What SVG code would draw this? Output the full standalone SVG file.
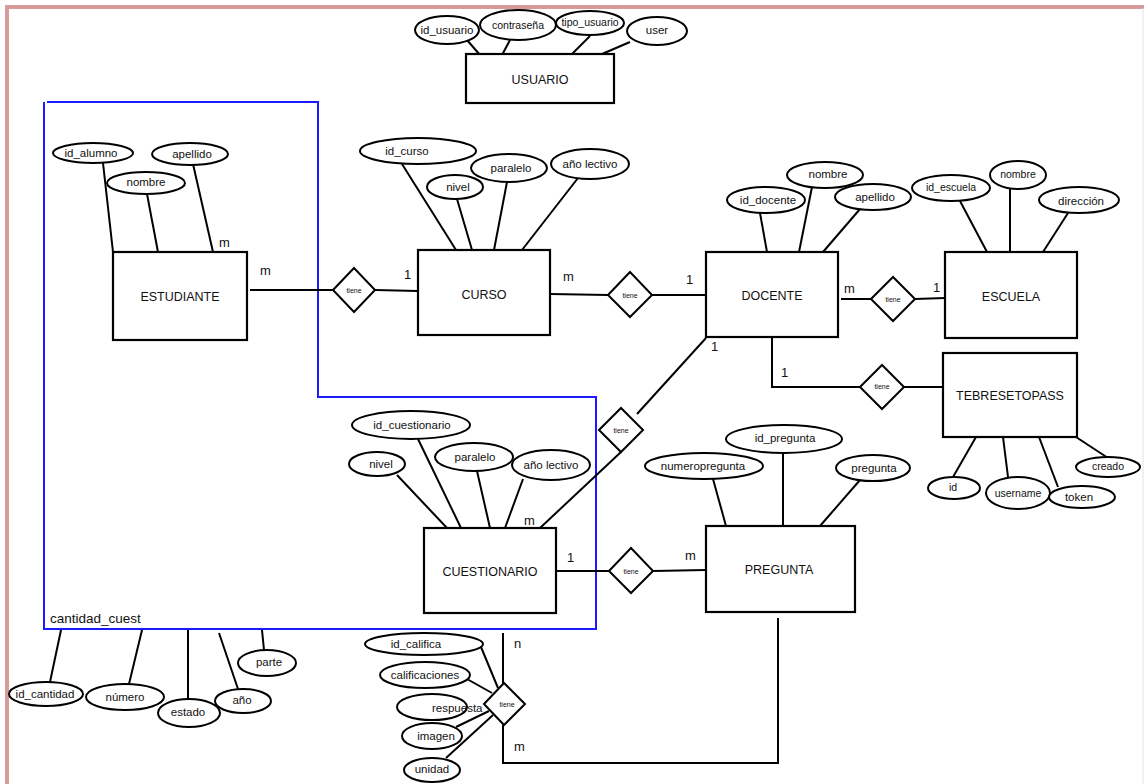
<svg xmlns="http://www.w3.org/2000/svg" width="1144" height="784" viewBox="0 0 1144 784">
  <style>
    .ent { fill: #fff; stroke: #000; stroke-width: 2.2; }
    .att { fill: #fff; stroke: #000; stroke-width: 2; }
    .rel { fill: #fff; stroke: #000; stroke-width: 2; }
    .ln  { stroke: #000; stroke-width: 2; fill: none; }
    .et  { font-family: "Liberation Sans", Arial, sans-serif; font-size: 12.5px; fill: #111; text-anchor: middle; dominant-baseline: central; }
    .at  { font-family: "Liberation Sans", Arial, sans-serif; font-size: 11.5px; fill: #111; text-anchor: middle; dominant-baseline: central; }
    .sm  { font-family: "Liberation Sans", Arial, sans-serif; font-size: 10.5px; fill: #111; text-anchor: middle; dominant-baseline: central; }
    .rt  { font-family: "Liberation Sans", Arial, sans-serif; font-size: 7px; fill: #111; text-anchor: middle; dominant-baseline: central; }
    .card { font-family: "Liberation Sans", Arial, sans-serif; font-size: 13px; fill: #111; }
  </style>

  <rect x="0" y="0" width="1144" height="784" fill="#fff"/>
  <!-- page frame -->
  <line x1="5" y1="7" x2="1144" y2="7" stroke="#d99a9a" stroke-width="4"/>
  <line x1="7" y1="5" x2="7" y2="784" stroke="#d99a9a" stroke-width="4"/>
  <line x1="1143" y1="8" x2="1143" y2="784" stroke="#e4e4e4" stroke-width="1"/>

  <!-- aggregation outline -->
  <g id="cantidad_cuest">
    <path d="M47,102 H318 V397 H596 V629 H44 V102" fill="none" stroke="#1a1aff" stroke-width="2"/>
    <text x="50" y="623" font-family="Liberation Sans, Arial, sans-serif" font-size="13.5" fill="#111">cantidad_cuest</text>
  </g>

  <!-- connectors -->
  <g id="connectors" class="ln">
    <!-- USUARIO attributes -->
    <line x1="467" y1="40" x2="480" y2="55"/>
    <line x1="510" y1="40" x2="502" y2="55"/>
    <line x1="590" y1="36" x2="572" y2="54"/>
    <line x1="630" y1="42" x2="602" y2="54"/>
    <!-- ESTUDIANTE attributes -->
    <line x1="103" y1="163" x2="113" y2="252"/>
    <line x1="147" y1="194" x2="158" y2="252"/>
    <line x1="193" y1="164" x2="213" y2="252"/>
    <!-- ESTUDIANTE - tiene - CURSO -->
    <line x1="250" y1="290" x2="333" y2="290"/>
    <line x1="375" y1="290" x2="418" y2="291"/>
    <!-- CURSO attributes -->
    <line x1="402" y1="164" x2="456" y2="250"/>
    <line x1="457" y1="199" x2="472" y2="250"/>
    <line x1="507" y1="182" x2="494" y2="250"/>
    <line x1="578" y1="178" x2="522" y2="250"/>
    <!-- CURSO - tiene - DOCENTE -->
    <line x1="550" y1="294" x2="608" y2="295"/>
    <line x1="652" y1="295" x2="706" y2="295"/>
    <!-- DOCENTE attributes -->
    <line x1="760" y1="213" x2="767" y2="252"/>
    <line x1="812" y1="187" x2="799" y2="252"/>
    <line x1="860" y1="209" x2="823" y2="252"/>
    <!-- DOCENTE - tiene - ESCUELA -->
    <line x1="841" y1="299" x2="871" y2="299"/>
    <line x1="915" y1="299" x2="945" y2="298"/>
    <!-- ESCUELA attributes -->
    <line x1="960" y1="201" x2="987" y2="252"/>
    <line x1="1010" y1="189" x2="1010" y2="252"/>
    <line x1="1068" y1="213" x2="1043" y2="252"/>
    <!-- DOCENTE - tiene - TEBRESETOPASS -->
    <polyline points="772,337 772,387 860,387"/>
    <line x1="904" y1="387" x2="943" y2="387"/>
    <!-- TEBRESETOPASS attributes -->
    <line x1="953" y1="477" x2="976" y2="437"/>
    <line x1="1008" y1="477" x2="1003" y2="437"/>
    <line x1="1058" y1="487" x2="1039" y2="437"/>
    <line x1="1108" y1="458" x2="1076" y2="437"/>
    <!-- DOCENTE - tiene - CUESTIONARIO -->
    <line x1="706" y1="338" x2="637" y2="414"/>
    <line x1="621" y1="452" x2="540" y2="528"/>
    <!-- CUESTIONARIO attributes -->
    <line x1="418" y1="439" x2="461" y2="528"/>
    <line x1="397" y1="475" x2="447" y2="528"/>
    <line x1="477" y1="471" x2="490" y2="528"/>
    <line x1="523" y1="479" x2="505" y2="528"/>
    <!-- CUESTIONARIO - tiene - PREGUNTA -->
    <line x1="556" y1="571" x2="609" y2="571"/>
    <line x1="653" y1="571" x2="706" y2="570"/>
    <!-- PREGUNTA attributes -->
    <line x1="713" y1="479" x2="726" y2="526"/>
    <line x1="783" y1="453" x2="783" y2="526"/>
    <line x1="860" y1="480" x2="820" y2="526"/>
    <!-- cantidad_cuest attributes -->
    <line x1="61" y1="630" x2="50" y2="682"/>
    <line x1="142" y1="630" x2="129" y2="684"/>
    <line x1="188" y1="630" x2="188" y2="699"/>
    <line x1="219" y1="633" x2="238" y2="689"/>
    <line x1="262" y1="630" x2="264" y2="650"/>
    <!-- CUESTIONARIO / PREGUNTA - tiene (calificaciones) -->
    <line x1="503" y1="633" x2="503" y2="683"/>
    <polyline points="503,725 503,763 778,763 778,618"/>
    <line x1="481" y1="647" x2="498" y2="688"/>
    <line x1="467" y1="679" x2="492" y2="693"/>
    <line x1="456" y1="727" x2="489" y2="711"/>
    <line x1="446" y1="758" x2="493" y2="715"/>
  </g>

  <!-- USUARIO -->
  <g id="usuario">
    <rect class="ent" x="466" y="54" width="148" height="49"/>
    <text class="et" x="540" y="80">USUARIO</text>
    <ellipse class="att" cx="447" cy="30" rx="32" ry="14"/>
    <text class="at" x="447" y="30">id_usuario</text>
    <ellipse class="att" cx="518" cy="25" rx="38" ry="15"/>
    <text class="sm" x="518" y="25">contraseña</text>
    <ellipse class="att" cx="590" cy="23" rx="34" ry="12"/>
    <text class="sm" x="590" y="22">tipo_usuario</text>
    <ellipse class="att" cx="657" cy="31" rx="30" ry="14"/>
    <text class="at" x="657" y="30">user</text>
  </g>

  <!-- ESTUDIANTE -->
  <g id="estudiante">
    <rect class="ent" x="113" y="252" width="134" height="88"/>
    <text class="et" x="180" y="297">ESTUDIANTE</text>
    <ellipse class="att" cx="93" cy="153" rx="40" ry="10"/>
    <text class="at" x="91" y="153">id_alumno</text>
    <ellipse class="att" cx="146" cy="183" rx="39" ry="11"/>
    <text class="at" x="146" y="182">nombre</text>
    <ellipse class="att" cx="190" cy="154" rx="38" ry="11"/>
    <text class="at" x="192" y="154">apellido</text>
  </g>

  <!-- CURSO -->
  <g id="curso">
    <rect class="ent" x="418" y="250" width="132" height="85"/>
    <text class="et" x="484" y="295">CURSO</text>
    <ellipse class="att" cx="418" cy="151" rx="58" ry="13"/>
    <text class="at" x="407" y="151">id_curso</text>
    <ellipse class="att" cx="455" cy="187" rx="28" ry="12"/>
    <text class="at" x="458" y="187">nivel</text>
    <ellipse class="att" cx="509" cy="168" rx="38" ry="14"/>
    <text class="at" x="511" y="168">paralelo</text>
    <ellipse class="att" cx="590" cy="164" rx="39" ry="15"/>
    <text class="at" x="590" y="164">año lectivo</text>
  </g>

  <!-- DOCENTE -->
  <g id="docente">
    <rect class="ent" x="706" y="252" width="132" height="85"/>
    <text class="et" x="772" y="296">DOCENTE</text>
    <ellipse class="att" cx="766" cy="200" rx="39" ry="13"/>
    <text class="at" x="768" y="200">id_docente</text>
    <ellipse class="att" cx="825" cy="175" rx="38" ry="13"/>
    <text class="at" x="828" y="174">nombre</text>
    <ellipse class="att" cx="873" cy="197" rx="38" ry="13"/>
    <text class="at" x="875" y="197">apellido</text>
  </g>

  <!-- ESCUELA -->
  <g id="escuela">
    <rect class="ent" x="945" y="252" width="132" height="86"/>
    <text class="et" x="1011" y="297">ESCUELA</text>
    <ellipse class="att" cx="951" cy="188" rx="39" ry="13"/>
    <text class="sm" x="951" y="187">id_escuela</text>
    <ellipse class="att" cx="1018" cy="175" rx="28" ry="14"/>
    <text class="sm" x="1018" y="174">nombre</text>
    <ellipse class="att" cx="1079" cy="200" rx="40" ry="13"/>
    <text class="at" x="1081" y="201">dirección</text>
  </g>

  <!-- TEBRESETOPASS -->
  <g id="tebresetopass">
    <rect class="ent" x="943" y="353" width="134" height="84"/>
    <text class="et" x="1010" y="396">TEBRESETOPASS</text>
    <ellipse class="att" cx="954" cy="488" rx="26" ry="11"/>
    <text class="sm" x="953" y="487">id</text>
    <ellipse class="att" cx="1018" cy="493" rx="32" ry="16"/>
    <text class="sm" x="1018" y="493">username</text>
    <ellipse class="att" cx="1082" cy="497" rx="33" ry="11"/>
    <text class="at" x="1079" y="497">token</text>
    <ellipse class="att" cx="1108" cy="467" rx="32" ry="10"/>
    <text class="sm" x="1108" y="466">creado</text>
  </g>

  <!-- CUESTIONARIO -->
  <g id="cuestionario">
    <rect class="ent" x="424" y="528" width="132" height="85"/>
    <text class="et" x="490" y="572">CUESTIONARIO</text>
    <ellipse class="att" cx="411" cy="425" rx="59" ry="14"/>
    <text class="at" x="412" y="425">id_cuestionario</text>
    <ellipse class="att" cx="377" cy="464" rx="28" ry="12"/>
    <text class="at" x="381" y="464">nivel</text>
    <ellipse class="att" cx="474" cy="457" rx="39" ry="14"/>
    <text class="at" x="475" y="457">paralelo</text>
    <ellipse class="att" cx="551" cy="465" rx="39" ry="15"/>
    <text class="at" x="551" y="465">año lectivo</text>
  </g>

  <!-- PREGUNTA -->
  <g id="pregunta">
    <rect class="ent" x="706" y="526" width="149" height="86"/>
    <text class="et" x="779" y="570">PREGUNTA</text>
    <ellipse class="att" cx="704" cy="466" rx="59" ry="13"/>
    <text class="at" x="703" y="466">numeropregunta</text>
    <ellipse class="att" cx="784" cy="439" rx="58" ry="14"/>
    <text class="at" x="785" y="438">id_pregunta</text>
    <ellipse class="att" cx="873" cy="468" rx="37" ry="13"/>
    <text class="at" x="874" y="468">pregunta</text>
  </g>

  <!-- cantidad_cuest attributes -->
  <g id="cantidad_attrs">
    <ellipse class="att" cx="46" cy="694" rx="37" ry="12"/>
    <text class="at" x="45" y="694">id_cantidad</text>
    <ellipse class="att" cx="125" cy="697" rx="39" ry="13"/>
    <text class="at" x="125" y="697">número</text>
    <ellipse class="att" cx="189" cy="713" rx="31" ry="14"/>
    <text class="at" x="188" y="712">estado</text>
    <ellipse class="att" cx="243" cy="701" rx="28" ry="12"/>
    <text class="at" x="242" y="700">año</text>
    <ellipse class="att" cx="267" cy="663" rx="29" ry="13"/>
    <text class="at" x="269" y="662">parte</text>
  </g>

  <!-- calificaciones attributes -->
  <g id="califica_attrs">
    <ellipse class="att" cx="424" cy="644" rx="59" ry="11"/>
    <text class="at" x="416" y="644">id_califica</text>
    <ellipse class="att" cx="425" cy="675" rx="45" ry="13"/>
    <text class="at" x="425" y="675">calificaciones</text>
    <ellipse class="att" cx="432" cy="707" rx="35" ry="13"/>
    <ellipse class="att" cx="432" cy="736" rx="30" ry="13"/>
    <text class="at" x="436" y="736">imagen</text>
    <ellipse class="att" cx="432" cy="770" rx="28" ry="12"/>
    <text class="at" x="432" y="769">unidad</text>
  </g>

  <!-- relationships -->
  <g id="rel_estudiante_curso">
    <polygon class="rel" points="333,290 354,268 375,290 354,312"/>
    <text class="rt" x="354" y="290">tiene</text>
  </g>
  <g id="rel_curso_docente">
    <polygon class="rel" points="608,295 630,272 652,295 630,317"/>
    <text class="rt" x="630" y="295">tiene</text>
  </g>
  <g id="rel_docente_escuela">
    <polygon class="rel" points="871,299 893,277 915,299 893,321"/>
    <text class="rt" x="893" y="299">tiene</text>
  </g>
  <g id="rel_docente_tebresetopass">
    <polygon class="rel" points="860,387 882,365 904,387 882,409"/>
    <text class="rt" x="882" y="386">tiene</text>
  </g>
  <g id="rel_docente_cuestionario">
    <polygon class="rel" points="599,430 621,408 643,430 621,452"/>
    <text class="rt" x="621" y="430">tiene</text>
  </g>
  <g id="rel_cuestionario_pregunta">
    <polygon class="rel" points="609,571 631,548 653,571 631,593"/>
    <text class="rt" x="631" y="571">tiene</text>
  </g>
  <g id="rel_califica">
    <polygon class="rel" points="484,704 504,683 525,704 504,725"/>
    <text class="rt" x="507" y="704">tiene</text>
    <text x="432" y="708" font-family="Liberation Sans, Arial, sans-serif" font-size="11.5" fill="#111" dominant-baseline="central">respuesta</text>
  </g>

  <!-- cardinalities -->
  <g id="cardinalities" class="card">
    <text x="219" y="247">m</text>
    <text x="260" y="275">m</text>
    <text x="404" y="279">1</text>
    <text x="563" y="281">m</text>
    <text x="686" y="284">1</text>
    <text x="844" y="293">m</text>
    <text x="933" y="292">1</text>
    <text x="711" y="351">1</text>
    <text x="781" y="377">1</text>
    <text x="524" y="525">m</text>
    <text x="567" y="562">1</text>
    <text x="685" y="560">m</text>
    <text x="514" y="648">n</text>
    <text x="514" y="751">m</text>
  </g>
</svg>
